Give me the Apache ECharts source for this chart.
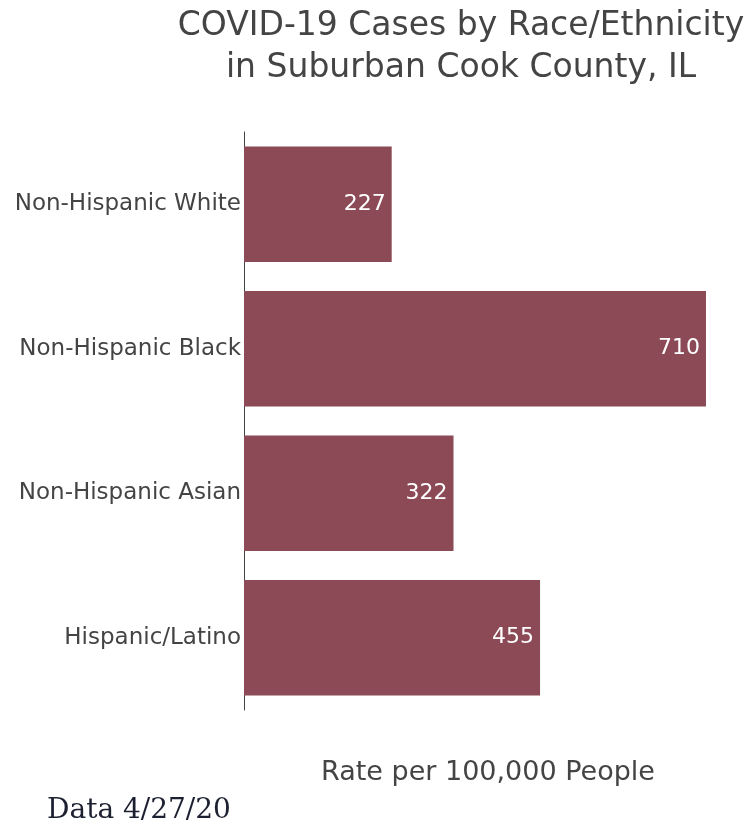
<!DOCTYPE html>
<html>
<head>
<meta charset="utf-8">
<script src="https://cdn.jsdelivr.net/npm/echarts@6/dist/echarts.min.js"></script>
<style>
  html, body { margin: 0; padding: 0; background: #fff; }
  #chart { width: 745px; height: 832px; }
</style>
</head>
<body>
<div id="chart"></div>
<script>
var groups = ["Non-Hispanic White", "Non-Hispanic Black", "Non-Hispanic Asian", "Hispanic/Latino"];
var rates = [227, 710, 322, 455];

var chart = echarts.init(document.getElementById("chart"));

var option = {
  animation: false,
  textStyle: { fontFamily: "DejaVu Sans" },
  title: {
    text: "COVID-19 Cases by Race/Ethnicity\nin Suburban Cook County, IL",
    left: 456,
    top: 0,
    textAlign: "center",
    textStyle: {
      fontFamily: "DejaVu Sans",
      fontSize: 33,
      fontWeight: "normal",
      color: "#444",
      lineHeight: 42,
    },
  },
  grid: {
    left: 244,
    right: 13,
    top: 132,
    bottom: 122,
    containLabel: false,
  },
  xAxis: {
    type: "value",
    min: 0,
    max: 750,
    name: "Rate per 100,000 People",
    nameLocation: "middle",
    nameGap: 49,
    nameTextStyle: { fontSize: 27, color: "#444", fontFamily: "DejaVu Sans" },
    axisLine: { show: false },
    axisTick: { show: false },
    axisLabel: { show: false },
    splitLine: { show: false },
  },
  yAxis: {
    type: "category",
    data: groups,
    inverse: true,
    axisLine: { show: true, lineStyle: { color: "#444", width: 1 } },
    axisTick: { show: false },
    axisLabel: { fontSize: 23, color: "#444", margin: 3, fontFamily: "DejaVu Sans" },
  },
  series: [
    {
      type: "bar",
      data: rates,
      barCategoryGap: "20%",
      itemStyle: { color: "#8b4a55" },
      label: {
        show: true,
        position: "insideRight",
        distance: 6,
        color: "#fff",
        fontSize: 22,
        fontFamily: "DejaVu Sans",
      },
    },
  ],
  graphic: [
    {
      type: "text",
      left: 47,
      top: 797,
      style: {
        text: "Data 4/27/20",
        font: "28px 'DejaVu Serif'",
        fill: "#1c2030",
      },
    },
  ],
};

chart.setOption(option);
</script>
</body>
</html>
